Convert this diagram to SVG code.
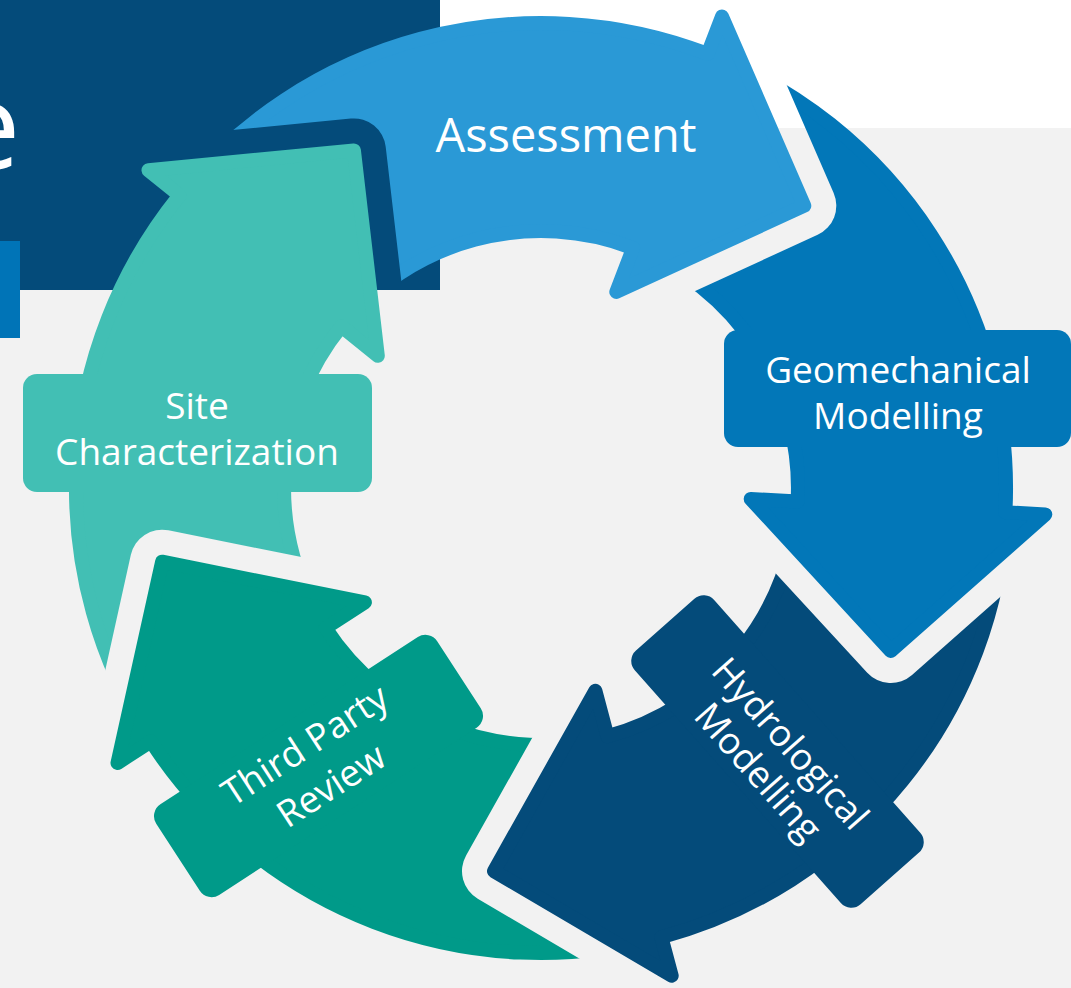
<svg xmlns="http://www.w3.org/2000/svg" width="1071" height="988" viewBox="0 0 1071 988">
<style>
.lbl{font-family:"Open Sans","Noto Sans",sans-serif;fill:#fff;text-anchor:middle}
.shape{stroke-width:14;stroke-linejoin:round}
.cut{fill:#000;stroke:#000;stroke-width:64;stroke-linejoin:round}
</style>
<defs>
<mask id="mA" maskUnits="userSpaceOnUse" x="0" y="0" width="1071" height="988">
<rect width="1071" height="988" fill="#fff"/>
<path class="cut" d="M148.5,170.2 L353.9,150.4 L377.8,355.8 Z"/>
</mask>
<mask id="mG" maskUnits="userSpaceOnUse" x="0" y="0" width="1071" height="988">
<rect width="1071" height="988" fill="#fff"/>
<path class="cut" d="M722,16.5 L804.3,205.7 L616.3,291.9 Z"/>
</mask>
<mask id="mH" maskUnits="userSpaceOnUse" x="0" y="0" width="1071" height="988">
<rect width="1071" height="988" fill="#fff"/>
<path class="cut" d="M1045.3,514.4 L890.8,651.1 L750.7,499 Z"/>
</mask>
<mask id="mT" maskUnits="userSpaceOnUse" x="0" y="0" width="1071" height="988">
<rect width="1071" height="988" fill="#fff"/>
<path class="cut" d="M671.7,975.8 L494,871.1 L595.4,690.8 Z"/>
</mask>
<mask id="mS" maskUnits="userSpaceOnUse" x="0" y="0" width="1071" height="988">
<rect width="1071" height="988" fill="#fff"/>
<path class="cut" d="M117.5,763 L162.1,561.7 L364.9,602.4 Z"/>
</mask>
</defs>

<g id="background">
<rect width="1071" height="988" fill="#ffffff"/>
<rect y="128" width="1071" height="860" fill="#f2f2f2"/>
<rect width="440" height="290" fill="#044b7a"/>
<rect y="241" width="20" height="97" fill="#0074b7"/>
<text x="-47" y="169" font-family="Open Sans, sans-serif" font-size="120" fill="#ffffff">e</text>
</g>

<g id="connectors"></g>

<g id="assessment">
<g mask="url(#mA)">
<path class="shape" fill="#2a99d6" stroke="#2a99d6" d="M179.6,195.4 A465,465 0 0 1 707.6,53.9 L722,16.5 L804.3,205.7 L616.3,291.9 L633.1,248.1 A257,257 0 0 0 341.3,326.3 Z"/>
</g>
<text class="lbl" x="566" y="152" font-size="47">Assessment</text>
</g>

<g id="geomechanical">
<g mask="url(#mG)">
<path class="shape" fill="#0277b8" stroke="#0277b8" d="M707.6,53.9 A465,465 0 0 1 1005.4,512.3 L1045.3,514.4 L890.8,651.1 L750.7,499 L797.6,501.5 A257,257 0 0 0 633.1,248.1 Z"/>
<rect x="724" y="330" width="347" height="117" rx="14" fill="#0277b8"/>
</g>
<text class="lbl" x="898" y="383" font-size="37">Geomechanical</text>
<text class="lbl" x="898" y="429" font-size="37">Modelling</text>
</g>

<g id="hydrological">
<g mask="url(#mH)">
<path class="shape" fill="#044b7a" stroke="#044b7a" d="M1005.4,512.3 A465,465 0 0 1 661.4,937.2 L671.7,975.8 L494,871.1 L595.4,690.8 L607.5,736.2 A257,257 0 0 0 797.6,501.5 Z"/>
<rect x="-169.5" y="-53" width="339" height="106" rx="14" fill="#044b7a" transform="translate(777.5,751.5) rotate(48.5)"/>
</g>
<g transform="translate(765,766) rotate(48.5)">
<text class="lbl" x="0" y="-21" font-size="37">Hydrological</text>
<text class="lbl" x="0" y="22" font-size="37">Modelling</text>
</g>
</g>

<g id="third-party-review">
<g mask="url(#mT)">
<path class="shape" fill="#009a89" stroke="#009a89" d="M661.4,937.2 A465,465 0 0 1 151,741.3 L117.5,763 L162.1,561.7 L364.9,602.4 L325.5,628 A257,257 0 0 0 607.5,736.2 Z"/>
<rect x="-167.5" y="-54" width="335" height="108" rx="14" fill="#009a89" transform="translate(318.5,766) rotate(-33)"/>
</g>
<g transform="translate(318.5,766) rotate(-33)">
<text class="lbl" x="0" y="-12" font-size="37">Third Party</text>
<text class="lbl" x="0" y="36" font-size="37">Review</text>
</g>
</g>

<g id="site-characterization">
<g mask="url(#mS)">
<path class="shape" fill="#42bfb4" stroke="#42bfb4" d="M151,741.3 A465,465 0 0 1 179.6,195.4 L148.5,170.2 L353.9,150.4 L377.8,355.8 L341.3,326.3 A257,257 0 0 0 325.5,628 Z"/>
<rect x="23" y="374" width="349" height="118" rx="14" fill="#42bfb4"/>
</g>
<text class="lbl" x="197" y="419" font-size="37">Site</text>
<text class="lbl" x="197" y="465" font-size="37">Characterization</text>
</g>
</svg>
